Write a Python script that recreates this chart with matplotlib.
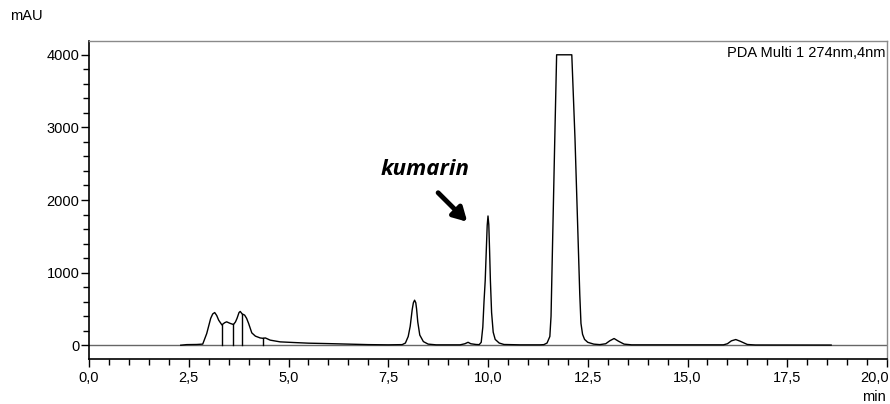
import matplotlib
matplotlib.use("Agg")
import matplotlib.pyplot as plt
from matplotlib.ticker import MultipleLocator, FuncFormatter
import matplotlib.transforms as mtransforms
import numpy as np

# Chromatogram trace (time in min, signal in mAU)
time_min = [2.30, 2.45, 2.70, 2.85, 2.95, 3.05, 3.10, 3.15, 3.20, 3.25, 3.33, 3.40, 3.45,
            3.54, 3.62, 3.67, 3.71, 3.76, 3.79, 3.84, 3.90, 3.95, 4.00, 4.08, 4.17, 4.29,
            4.36, 4.42, 4.54, 4.79, 5.13, 5.50, 6.00, 6.50, 7.00, 7.50, 7.85, 7.93, 8.00,
            8.05, 8.10, 8.13, 8.16, 8.19, 8.21, 8.24, 8.29, 8.38, 8.50, 8.70, 9.30, 9.42,
            9.50, 9.57, 9.70, 9.78, 9.83, 9.87, 9.90, 9.93, 9.96, 9.98, 10.00, 10.02,
            10.04, 10.06, 10.09, 10.13, 10.18, 10.28, 10.40, 10.80, 11.30, 11.40, 11.48,
            11.55, 11.58, 11.62, 11.67, 11.72, 12.10, 12.18, 12.25, 12.30, 12.33, 12.37,
            12.42, 12.50, 12.65, 12.80, 12.95, 13.05, 13.16, 13.27, 13.41, 13.60, 15.90,
            16.00, 16.10, 16.21, 16.32, 16.50, 16.70, 18.60]
signal_mau = [0, 8, 10, 15, 160, 370, 430, 450, 410, 345, 280, 310, 322,
              300, 285, 320, 370, 450, 465, 430, 415, 370, 300, 170, 125, 100,
              95, 100, 70, 46, 37, 28, 22, 15, 8, 5, 8, 30, 120,
              260, 490, 585, 620, 585, 500, 320, 140, 50, 15, 5, 5, 20,
              40, 20, 10, 8, 40, 250, 600, 890, 1350, 1650, 1780, 1660,
              1300, 890, 450, 180, 80, 30, 10, 5, 5, 8, 30,
              120, 400, 1450, 2750, 4000, 4000, 2850, 1600, 700, 300, 150,
              80, 40, 15, 8, 20, 60, 92, 55, 15, 5, 5,
              20, 60, 78, 55, 10, 3, 2]

# Integration drop lines (min)
drop_times = [3.33, 3.61, 3.84, 4.35]

x_ticks = [0.0, 2.5, 5.0, 7.5, 10.0, 12.5, 15.0, 17.5, 20.0]
y_ticks = [0, 1000, 2000, 3000, 4000]

plt.rcParams['font.family'] = ['Liberation Sans', 'DejaVu Sans']

fig = plt.figure(figsize=(8.9, 4.04), dpi=100)
ax = fig.add_axes([89/890, 1-359/404, (887-89)/890, (359-41)/404])

ax.axhline(0, color='#666666', lw=1.0, zorder=1)
ax.plot(time_min, signal_mau, color='black', lw=1.0, zorder=3)
for t in drop_times:
    h = np.interp(t, time_min, signal_mau)
    ax.plot([t, t], [0, h], color='black', lw=1.0, zorder=3)

ax.set_xlim(0, 20.0)
ax.set_ylim(-190, 4190)

ax.set_xticks(x_ticks)
ax.xaxis.set_minor_locator(MultipleLocator(0.5))
ax.set_yticks(y_ticks)
ax.yaxis.set_minor_locator(MultipleLocator(200))
ax.xaxis.set_major_formatter(FuncFormatter(lambda v, p: f"{v:.1f}".replace('.', ',')))
ax.tick_params(axis='both', which='major', direction='out', length=6, width=1,
               labelsize=10.5, colors='black')
ax.tick_params(axis='both', which='minor', direction='out', length=4, width=1)
ax.tick_params(axis='x', pad=3)
ax.tick_params(axis='y', pad=1)

# keep the last x label inside the figure
fig.canvas.draw()
last = ax.get_xticklabels()[-1]
last.set_transform(last.get_transform() +
                   mtransforms.ScaledTranslation(-12/100, 0, fig.dpi_scale_trans))

for s in ['left', 'bottom']:
    ax.spines[s].set_color('black')
    ax.spines[s].set_linewidth(1.2)
for s in ['top', 'right']:
    ax.spines[s].set_color('#8a8a8a')
    ax.spines[s].set_linewidth(1.0)

fig.text(10/890, 1-16/404, "mAU", fontsize=10.5, ha='left', va='center')
ax.text(0.998, 0.985, "PDA Multi 1 274nm,4nm", transform=ax.transAxes,
        ha='right', va='top', fontsize=10.5)
fig.text(886/890, 1-397/404, "min", fontsize=10.5, ha='right', va='center')

ax.annotate("", xy=(9.48, 1700), xytext=(8.75, 2100),
            arrowprops=dict(arrowstyle='-|>,head_length=0.8,head_width=0.45',
                            color='black', lw=3.5, shrinkA=0, shrinkB=0))
ax.text(8.42, 2420, "kumarin", fontsize=16, fontweight='bold', fontstyle='italic',
        family=['Open Sans', 'DejaVu Sans'], ha='center', va='center')

fig.savefig("out.png", dpi=100)
